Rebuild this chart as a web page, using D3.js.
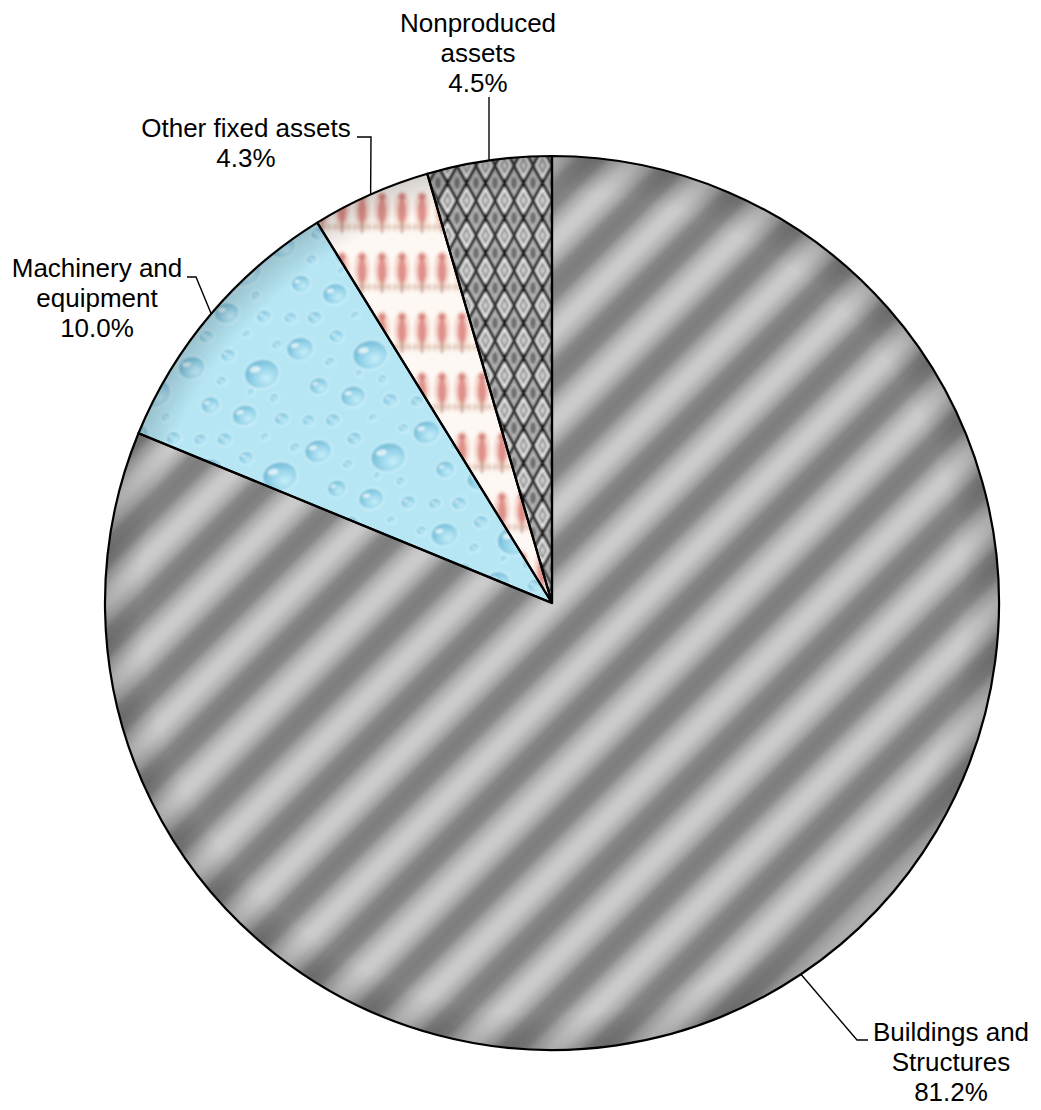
<!DOCTYPE html>
<html>
<head>
<meta charset="utf-8">
<script src="https://cdn.jsdelivr.net/npm/d3@7"></script>
<style>
  html, body { margin: 0; padding: 0; background: #ffffff; }
  svg { display: block; }
  text { font-family: "Liberation Sans", Arial, sans-serif; font-size: 26px; fill: #000; }
</style>
</head>
<body>
<div id="chart"></div>
<script>
// Composition of assets (percent shares), drawn clockwise from 12 o'clock
const categories = ["Buildings and Structures", "Machinery and equipment", "Other fixed assets", "Nonproduced assets"];
const shares = [81.2, 10.0, 4.3, 4.5];
const labelLines = [["Buildings and", "Structures"], ["Machinery and", "equipment"], ["Other fixed assets"], ["Nonproduced", "assets"]];
const fillIds = ["stripes", "drops", "birds", "argyle"];

const W = 1041, H = 1110;
const cx = 552, cy = 603, R = 447;

// label placement: text centre x, first baseline y, and leader bend/end points
const labelLayout = [
  { x: 951, y: 1041, leader: [[857, 1040], [868, 1040]] },
  { x: 97,  y: 277,  leader: [[196, 277], [187, 277]] },
  { x: 246, y: 137,  leader: [[371, 137], [357, 137]] },
  { x: 478, y: 32,   leader: [[489, 97]] }
];
const lineHeight = 30;

const svg = d3.select("#chart").append("svg").attr("width", W).attr("height", H);
const defs = svg.append("defs");

// slight softening used inside the texture tiles
defs.append("filter").attr("id", "soft").attr("x", "-20%").attr("y", "-20%").attr("width", "140%").attr("height", "140%")
  .append("feGaussianBlur").attr("stdDeviation", 0.8);
defs.append("filter").attr("id", "softer").attr("x", "-20%").attr("y", "-20%").attr("width", "140%").attr("height", "140%")
  .append("feGaussianBlur").attr("stdDeviation", 1.4);

// ---- soft diagonal grey stripes ----
const P = 63.6;                 // stripe period measured across the stripes
const darkU = 912;              // screen-space (x+y)/√2 of one dark stripe centre
const offU = (cx + cy) / Math.SQRT2;
const t = ((darkU - offU) % P + P) % P - P / 2;
const sg = defs.append("linearGradient").attr("id", "stripeGrad").attr("x1", 0).attr("x2", 1).attr("y1", 0).attr("y2", 0);
[[0, "#cbcbcb"], [0.08, "#c8c8c8"], [0.24, "#aaaaaa"], [0.36, "#868686"], [0.5, "#7d7d7d"], [0.64, "#868686"], [0.76, "#aaaaaa"], [0.92, "#c8c8c8"], [1, "#cbcbcb"]]
  .forEach(([o, c]) => sg.append("stop").attr("offset", o).attr("stop-color", c));
const sp = defs.append("pattern").attr("id", "stripes").attr("patternUnits", "userSpaceOnUse")
  .attr("width", P).attr("height", P).attr("patternTransform", `rotate(45) translate(${t},0)`);
sp.append("rect").attr("width", P).attr("height", P).attr("fill", "url(#stripeGrad)");

// ---- water drops ----
const dg = defs.append("radialGradient").attr("id", "dropGrad").attr("cx", 0.62).attr("cy", 0.68).attr("r", 0.62);
[[0, "#c6eef9"], [0.6, "#98d5ea"], [1, "#78c0da"]].forEach(([o, c]) => dg.append("stop").attr("offset", o).attr("stop-color", c));
const dw = 110, dh = 104;
const dp = defs.append("pattern").attr("id", "drops").attr("patternUnits", "userSpaceOnUse")
  .attr("width", dw).attr("height", dh).attr("patternTransform", "rotate(-10)");
dp.append("rect").attr("width", dw).attr("height", dh).attr("fill", "#b6e6f4");
const dropG = dp.append("g").attr("filter", "url(#soft)");
const dropShapes = [[16, 18, 13, 11], [54, 12, 7, 6], [84, 36, 17, 14], [28, 58, 9, 8], [60, 74, 12, 10],
  [12, 90, 6, 5], [96, 84, 7, 6], [43, 36, 5, 4], [92, 62, 4, 4], [76, 98, 4, 3], [36, 94, 7, 6], [104, 10, 5, 4], [70, 52, 3, 3]];
dropShapes.forEach(([x, y, rx, ry]) => {
  dropG.append("ellipse").attr("cx", x).attr("cy", y).attr("rx", rx + 1.5).attr("ry", ry + 1.5).attr("fill", "#d6f3fb").attr("opacity", 0.85);
  dropG.append("ellipse").attr("cx", x).attr("cy", y).attr("rx", rx).attr("ry", ry).attr("fill", "url(#dropGrad)");
  dropG.append("ellipse").attr("cx", x - rx * 0.35).attr("cy", y - ry * 0.4).attr("rx", rx * 0.32).attr("ry", ry * 0.22)
    .attr("fill", "#ffffff").attr("opacity", 0.7);
});

// ---- perched birds ----
const bw = 20, bh = 60;
const bp = defs.append("pattern").attr("id", "birds").attr("patternUnits", "userSpaceOnUse")
  .attr("width", bw).attr("height", bh);
bp.append("rect").attr("width", bw).attr("height", bh).attr("fill", "#fdf8f3");
const birdG = bp.append("g").attr("filter", "url(#softer)");
birdG.append("rect").attr("y", 40).attr("width", bw).attr("height", 8).attr("fill", "#f2dccf").attr("opacity", 0.8);
birdG.append("ellipse").attr("cx", 10).attr("cy", 26).attr("rx", 8).attr("ry", 18).attr("fill", "#f1c3b6").attr("opacity", 0.6);
birdG.append("ellipse").attr("cx", 10).attr("cy", 28).attr("rx", 4.2).attr("ry", 12).attr("fill", "#da8580").attr("opacity", 0.85);
birdG.append("circle").attr("cx", 10).attr("cy", 14).attr("r", 3.4).attr("fill", "#d07874").attr("opacity", 0.85);
birdG.append("line").attr("x1", 10).attr("x2", 10).attr("y1", 38).attr("y2", 50).attr("stroke", "#b88a7e").attr("stroke-width", 1.8);
birdG.append("line").attr("x1", 0).attr("x2", bw).attr("y1", 44).attr("y2", 44).attr("stroke", "#b99a88").attr("stroke-width", 1.2).attr("opacity", 0.7);

// ---- argyle diamonds ----
const aw = 19, ah = 35;
const diamond = (s) => `M${aw / 2},${ah / 2 - s * ah / 2}L${aw / 2 + s * aw / 2},${ah / 2}L${aw / 2},${ah / 2 + s * ah / 2}L${aw / 2 - s * aw / 2},${ah / 2}Z`;
const ap = defs.append("pattern").attr("id", "argyle").attr("patternUnits", "userSpaceOnUse")
  .attr("width", aw).attr("height", ah);
ap.append("rect").attr("width", aw).attr("height", ah).attr("fill", "#b4b4b4");
const argG = ap.append("g").attr("filter", "url(#soft)");
argG.append("rect").attr("width", aw).attr("height", ah).attr("fill", "#b4b4b4");
argG.append("path").attr("d", diamond(1)).attr("fill", "#ececec").attr("stroke", "#0c0c0c").attr("stroke-width", 3.4);
argG.append("path").attr("d", diamond(0.62)).attr("fill", "#8e8e8e").attr("stroke", "#ffffff").attr("stroke-width", 1.3);
argG.append("path").attr("d", diamond(0.27)).attr("fill", "#cfcfcf");
[[0, 0], [aw, 0], [0, ah], [aw, ah]].forEach(([x, y]) =>
  argG.append("ellipse").attr("cx", x).attr("cy", y).attr("rx", 3).attr("ry", 6).attr("fill", "#6f6f6f"));

// rim shading
const rg = defs.append("radialGradient").attr("id", "rimShade").attr("gradientUnits", "userSpaceOnUse")
  .attr("cx", 0).attr("cy", 0).attr("r", R);
[[0, "rgba(0,0,0,0)"], [0.92, "rgba(0,0,0,0)"], [1, "rgba(0,0,0,0.16)"]]
  .forEach(([o, c]) => rg.append("stop").attr("offset", o).attr("stop-color", c));

// ---- pie ----
const pie = d3.pie().sort(null).value(d => d)(shares);
const arc = d3.arc().innerRadius(0).outerRadius(R);
const rimArc = d3.arc().innerRadius(R).outerRadius(R);

const g = svg.append("g").attr("transform", `translate(${cx},${cy})`);
g.selectAll("path.slice").data(pie).join("path")
  .attr("class", "slice")
  .attr("d", arc)
  .attr("fill", (d, i) => `url(#${fillIds[i]})`);
g.append("circle").attr("r", R).attr("fill", "url(#rimShade)");
g.selectAll("path.edge").data(pie).join("path")
  .attr("class", "edge")
  .attr("d", arc)
  .attr("fill", "none")
  .attr("stroke", "#000")
  .attr("stroke-width", 2.2)
  .attr("stroke-linejoin", "round");

// ---- leaders ----
const line = d3.line();
svg.selectAll("path.leader").data(pie).join("path")
  .attr("class", "leader")
  .attr("d", (d, i) => {
    const [mx, my] = rimArc.centroid(d);
    return line([[cx + mx, cy + my], ...labelLayout[i].leader]);
  })
  .attr("fill", "none").attr("stroke", "#000").attr("stroke-width", 1.4);

// ---- labels ----
const fmt = d3.format(".1f");
const labels = svg.selectAll("text.label").data(pie).join("text")
  .attr("class", "label")
  .attr("text-anchor", "middle");
labels.each(function (d, i) {
  const lines = [...labelLines[i], fmt(d.value) + "%"];
  d3.select(this).selectAll("tspan").data(lines).join("tspan")
    .attr("x", labelLayout[i].x)
    .attr("y", (s, k) => labelLayout[i].y + k * lineHeight)
    .text(s => s);
});
</script>
</body>
</html>
